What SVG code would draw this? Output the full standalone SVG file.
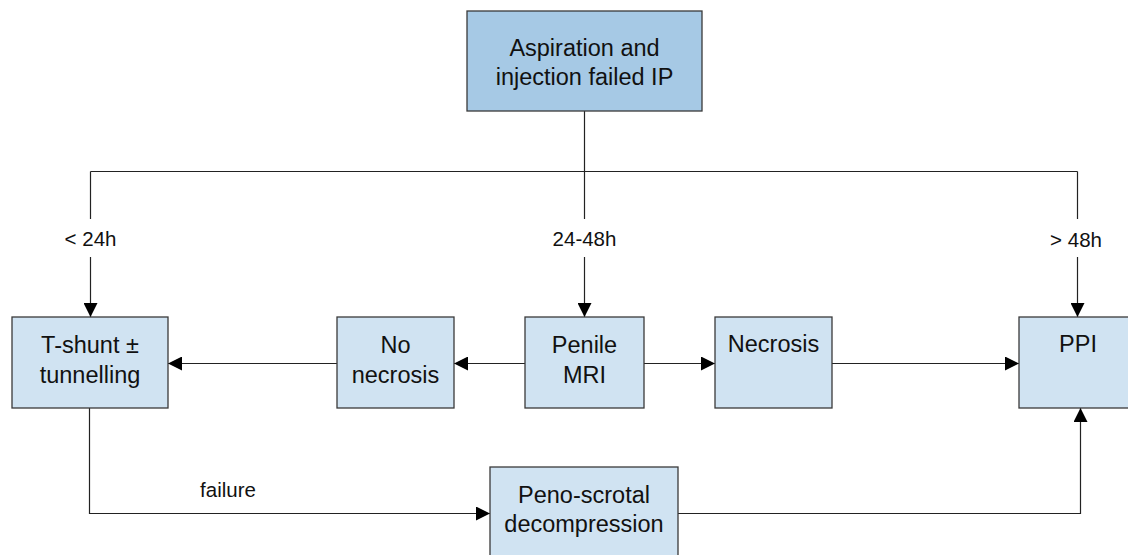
<svg xmlns="http://www.w3.org/2000/svg" width="1128" height="555" viewBox="0 0 1128 555">
<defs>
<marker id="arr" markerUnits="userSpaceOnUse" markerWidth="14" markerHeight="14" refX="14" refY="7" orient="auto">
<path d="M0,0 L14,7 L0,14 z" fill="#000"/>
</marker>
<style>
.box{fill:#d0e3f2;stroke:#3a3a3a;stroke-width:1.3}
.top{fill:#a6c9e5;stroke:#3a3a3a;stroke-width:1.3}
.t{font-family:"Liberation Sans",Arial,sans-serif;font-size:23.5px;fill:#111;text-anchor:middle}
.lbl{font-family:"Liberation Sans",Arial,sans-serif;font-size:20.5px;fill:#111;text-anchor:middle}
.c{fill:none;stroke:#222;stroke-width:1.2}
.ca{fill:none;stroke:#222;stroke-width:1.2;marker-end:url(#arr)}
</style>
</defs>
<rect width="1128" height="555" fill="#fff"/>
<g id="connectors">
<path class="c" d="M584.5,111 V171.5 M90.5,171.5 H1077.5"/>
<path class="c" d="M90.5,171.5 V219"/>
<path class="ca" d="M90.5,257 V317"/>
<path class="c" d="M584.5,171.5 V219"/>
<path class="ca" d="M584.5,257 V317"/>
<path class="c" d="M1077.5,171.5 V219"/>
<path class="ca" d="M1077.5,257 V317"/>
<path class="ca" d="M525,363.5 H454"/>
<path class="ca" d="M337,363.5 H168"/>
<path class="ca" d="M644,363.5 H715"/>
<path class="ca" d="M832,363.5 H1019"/>
<path class="ca" d="M89.5,408 V513.5 H490"/>
<path class="ca" d="M678,513.5 H1080.5 V408"/>
<text class="lbl" x="90.5" y="246">&lt; 24h</text>
<text class="lbl" x="584.5" y="246">24-48h</text>
<text class="lbl" x="1076" y="247">&gt; 48h</text>
<text class="lbl" x="228" y="497">failure</text>
</g>
<g id="n-top">
<rect class="top" x="467" y="11" width="235" height="100"/>
<text class="t" x="584.5" y="56">Aspiration and</text>
<text class="t" x="584.5" y="85">injection failed IP</text>
</g>
<g id="n-tshunt">
<rect class="box" x="12" y="317" width="156" height="91"/>
<text class="t" x="90" y="353">T-shunt ±</text>
<text class="t" x="90" y="383">tunnelling</text>
</g>
<g id="n-nonecrosis">
<rect class="box" x="337" y="317" width="117" height="91"/>
<text class="t" x="395.5" y="353">No</text>
<text class="t" x="395.5" y="383">necrosis</text>
</g>
<g id="n-mri">
<rect class="box" x="525" y="317" width="119" height="91"/>
<text class="t" x="584.5" y="353">Penile</text>
<text class="t" x="584.5" y="383">MRI</text>
</g>
<g id="n-necrosis">
<rect class="box" x="715" y="317" width="117" height="91"/>
<text class="t" x="773.5" y="352">Necrosis</text>
</g>
<g id="n-ppi">
<rect class="box" x="1019" y="317" width="118" height="91"/>
<text class="t" x="1078" y="352">PPI</text>
</g>
<g id="n-peno">
<rect class="box" x="490" y="467" width="188" height="100"/>
<text class="t" x="584" y="503">Peno-scrotal</text>
<text class="t" x="584" y="532">decompression</text>
</g>
</svg>
